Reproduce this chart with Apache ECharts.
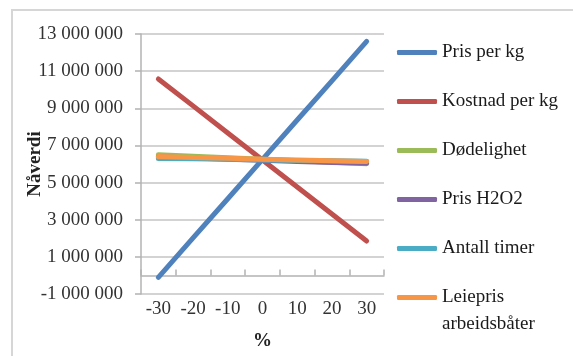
<!DOCTYPE html>
<html>
<head>
<meta charset="utf-8">
<script src="https://cdn.jsdelivr.net/npm/echarts@6/dist/echarts.min.js"></script>
<style>
html,body{margin:0;padding:0;background:#fff;}
#c{width:573px;height:356px;}
</style>
</head>
<body>
<div id="c"></div>
<script>
const categories = ['-30', '-20', '-10', '0', '10', '20', '30'];
const prisPerKg = [-100000, 2020000, 4130000, 6250000, 8370000, 10480000, 12600000];
const kostnadPerKg = [10580000, 9130000, 7670000, 6220000, 4760000, 3310000, 1850000];
const dodelighet = [6500000, 6420000, 6340000, 6260000, 6180000, 6100000, 6020000];
const prisH2O2 = [6380000, 6320000, 6260000, 6200000, 6140000, 6080000, 6040000];
const antallTimer = [6300000, 6280000, 6250000, 6220000, 6190000, 6170000, 6150000];
const leiepris = [6400000, 6350000, 6310000, 6260000, 6220000, 6180000, 6140000];
const yMin = -1000000, yMax = 13000000, yStep = 2000000;

const seriesNames = ['Pris per kg', 'Kostnad per kg', 'Dødelighet', 'Pris H2O2', 'Antall timer', 'Leiepris arbeidsbåter'];
const seriesData = [prisPerKg, kostnadPerKg, dodelighet, prisH2O2, antallTimer, leiepris];
const colors = ['#4F81BD', '#C0504D', '#9BBB59', '#8064A2', '#4BACC6', '#F79646'];

const font = 'Liberation Serif';
function fmt(v) {
  const neg = v < 0;
  const s = String(Math.abs(Math.round(v))).replace(/\B(?=(\d{3})+(?!\d))/g, ' ');
  return (neg ? '-' : '') + s;
}

const chart = echarts.init(document.getElementById('c'));
chart.setOption({
  animation: false,
  color: colors,
  grid: { left: 141, top: 34, right: 189, bottom: 62, containLabel: false },
  graphic: [
    { type: 'rect', shape: { x: 12, y: 10, width: 620, height: 400 }, style: { fill: 'none', stroke: '#d6d6d6', lineWidth: 2 }, silent: true },
    { type: 'text', left: 442, top: 315, style: { text: 'arbeidsbåter', fontFamily: font, fontSize: 19, fill: '#1a1a1a' } }
  ],
  legend: {
    orient: 'vertical', left: 397, top: 39, padding: 0,
    itemWidth: 40, itemHeight: 5, itemGap: 22, icon: 'roundRect',
    textStyle: { fontFamily: font, fontSize: 19, color: '#1a1a1a', lineHeight: 27 },
    formatter: function (n) { return n === 'Leiepris arbeidsbåter' ? 'Leiepris' : n; },
    data: seriesNames
  },
  xAxis: [
    {
      type: 'category', data: categories, boundaryGap: true, position: 'bottom',
      axisLine: { show: false, onZero: false }, axisTick: { show: false },
      axisLabel: { fontFamily: font, fontSize: 19, color: '#333', margin: 6 },
      name: '%', nameLocation: 'middle', nameGap: 38,
      nameTextStyle: { fontFamily: font, fontSize: 19, fontWeight: 'bold', color: '#222' }
    },
    {
      type: 'category', data: categories, boundaryGap: true,
      axisLine: { show: true, onZero: true, lineStyle: { color: '#b3b3b3', width: 1.5 } },
      axisTick: { show: true, inside: false, length: 6, alignWithLabel: false, lineStyle: { color: '#b3b3b3', width: 1.5 } },
      axisLabel: { show: false }, splitLine: { show: false }
    }
  ],
  yAxis: {
    type: 'value', min: yMin, max: yMax, interval: yStep,
    axisLine: { show: true, lineStyle: { color: '#b3b3b3', width: 1.5 } },
    axisTick: { show: true, length: 6, lineStyle: { color: '#b3b3b3', width: 1.5 } },
    splitLine: { show: true, lineStyle: { color: '#d3d3d3', width: 2 } },
    axisLabel: { fontFamily: font, fontSize: 19, color: '#333', margin: 18, formatter: fmt },
    name: 'Nåverdi', nameLocation: 'middle', nameRotate: 90, nameGap: 96, nameMoveOverlap: false,
    nameTextStyle: { fontFamily: font, fontSize: 19, fontWeight: 'bold', color: '#222' }
  },
  series: seriesNames.map(function (n, i) {
    return {
      name: n, type: 'line', xAxisIndex: 0, data: seriesData[i],
      showSymbol: false, symbol: 'none',
      lineStyle: { width: 5, cap: 'round', join: 'round', color: colors[i] }
    };
  })
});
</script>
</body>
</html>
